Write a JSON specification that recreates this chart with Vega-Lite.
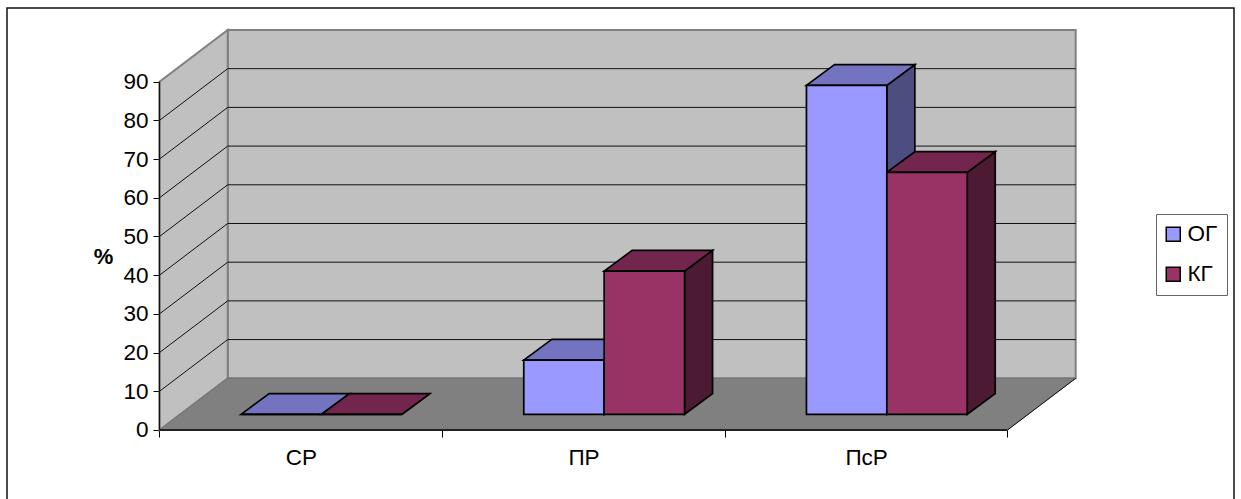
{
  "$schema": "https://vega.github.io/schema/vega-lite/v6.json",
  "width": 1227,
  "height": 492,
  "autosize": {"type": "none"},
  "padding": {"left": 7, "top": 8, "right": 7, "bottom": 0},
  "background": "white",
  "view": {"stroke": "#111111", "strokeWidth": 1.5, "fill": "white"},
  "config": {"font": "Liberation Sans"},
  "datasets": {
    "results": [
      {"group": "СР", "series": "ОГ", "value": 0},
      {"group": "СР", "series": "КГ", "value": 0},
      {"group": "ПР", "series": "ОГ", "value": 14},
      {"group": "ПР", "series": "КГ", "value": 37},
      {"group": "ПсР", "series": "ОГ", "value": 85},
      {"group": "ПсР", "series": "КГ", "value": 62.5}
    ],
    "levels": [
      {"level": 10}, {"level": 20}, {"level": 30}, {"level": 40},
      {"level": 50}, {"level": 60}, {"level": 70}, {"level": 80}
    ],
    "box": [{"part": "box"}]
  },
  "layer": [
    {
      "data": {"name": "box"},
      "mark": {"type": "rect", "fill": "#c0c0c0", "stroke": "#808080", "strokeWidth": 2},
      "encoding": {
        "x": {"datum": 0.2413, "type": "quantitative", "scale": {"domain": [-0.5395, 3.8013], "nice": false, "zero": false}, "axis": {"orient": "bottom", "offset": -70, "domain": false, "grid": false, "title": null, "values": [0, 0.5, 1, 1.5, 2, 2.5, 3], "labelExpr": "datum.value == 0.5 ? 'СР' : datum.value == 1.5 ? 'ПР' : datum.value == 2.5 ? 'ПсР' : ''", "tickOpacity": {"condition": {"test": "datum.value % 1 == 0", "value": 1}, "value": 0}, "tickColor": "#000000", "tickSize": 7, "tickWidth": 1, "labelFontSize": 22.5, "labelColor": "#000000", "labelPadding": 9, "labelFlush": false, "labelBound": false, "labelOverlap": false}},
        "x2": {"datum": 3.2413},
        "y": {"datum": 13.36, "type": "quantitative", "scale": {"domain": [-18.09, 109.04], "nice": false, "zero": false}, "axis": {"orient": "left", "offset": -152, "domain": false, "grid": false, "values": [0, 10, 20, 30, 40, 50, 60, 70, 80, 90], "title": "%", "titleAngle": 0, "titleX": -56, "titleY": 248, "titleFontSize": 22, "titleFontWeight": "bold", "titleColor": "#000000", "titleAlign": "center", "titleBaseline": "middle", "tickColor": "#000000", "tickSize": 6, "tickWidth": 1, "labelFontSize": 22.5, "labelColor": "#000000", "labelPadding": 5, "labelOverlap": false, "labelBound": false, "labelFlush": false}},
        "y2": {"datum": 103.36}
      }
    },
    {
      "data": {"name": "box"},
      "transform": [
        {"calculate": "[0, 1]", "as": "t"},
        {"flatten": ["t"]},
        {"calculate": "datum.t * 0.2413", "as": "wx"},
        {"calculate": "datum.t * 13.36", "as": "wb"},
        {"calculate": "90 + datum.t * 13.36", "as": "wt"}
      ],
      "mark": {"type": "area", "fill": "#c0c0c0", "stroke": "#808080", "strokeWidth": 2, "opacity": 1},
      "encoding": {
        "x": {"field": "wx", "type": "quantitative", "scale": {"domain": [-0.5395, 3.8013], "nice": false, "zero": false}, "axis": {"orient": "bottom", "offset": -70, "domain": false, "grid": false, "title": null, "values": [0, 0.5, 1, 1.5, 2, 2.5, 3], "labelExpr": "datum.value == 0.5 ? 'СР' : datum.value == 1.5 ? 'ПР' : datum.value == 2.5 ? 'ПсР' : ''", "tickOpacity": {"condition": {"test": "datum.value % 1 == 0", "value": 1}, "value": 0}, "tickColor": "#000000", "tickSize": 7, "tickWidth": 1, "labelFontSize": 22.5, "labelColor": "#000000", "labelPadding": 9, "labelFlush": false, "labelBound": false, "labelOverlap": false}},
        "y": {"field": "wb", "type": "quantitative", "scale": {"domain": [-18.09, 109.04], "nice": false, "zero": false}, "axis": {"orient": "left", "offset": -152, "domain": false, "grid": false, "values": [0, 10, 20, 30, 40, 50, 60, 70, 80, 90], "title": "%", "titleAngle": 0, "titleX": -56, "titleY": 248, "titleFontSize": 22, "titleFontWeight": "bold", "titleColor": "#000000", "titleAlign": "center", "titleBaseline": "middle", "tickColor": "#000000", "tickSize": 6, "tickWidth": 1, "labelFontSize": 22.5, "labelColor": "#000000", "labelPadding": 5, "labelOverlap": false, "labelBound": false, "labelFlush": false}},
        "y2": {"field": "wt"}
      }
    },
    {
      "data": {"name": "box"},
      "transform": [
        {"calculate": "[0, 1]", "as": "t"},
        {"flatten": ["t"]},
        {"calculate": "datum.t * 13.36", "as": "fy"},
        {"calculate": "datum.t * 0.2413", "as": "fl"},
        {"calculate": "3 + datum.t * 0.2413", "as": "fr"}
      ],
      "mark": {"type": "area", "orient": "horizontal", "fill": "#808080", "stroke": "#737373", "strokeWidth": 1, "opacity": 1},
      "encoding": {
        "y": {"field": "fy", "type": "quantitative", "scale": {"domain": [-18.09, 109.04], "nice": false, "zero": false}, "axis": {"orient": "left", "offset": -152, "domain": false, "grid": false, "values": [0, 10, 20, 30, 40, 50, 60, 70, 80, 90], "title": "%", "titleAngle": 0, "titleX": -56, "titleY": 248, "titleFontSize": 22, "titleFontWeight": "bold", "titleColor": "#000000", "titleAlign": "center", "titleBaseline": "middle", "tickColor": "#000000", "tickSize": 6, "tickWidth": 1, "labelFontSize": 22.5, "labelColor": "#000000", "labelPadding": 5, "labelOverlap": false, "labelBound": false, "labelFlush": false}},
        "x": {"field": "fl", "type": "quantitative", "scale": {"domain": [-0.5395, 3.8013], "nice": false, "zero": false}, "axis": {"orient": "bottom", "offset": -70, "domain": false, "grid": false, "title": null, "values": [0, 0.5, 1, 1.5, 2, 2.5, 3], "labelExpr": "datum.value == 0.5 ? 'СР' : datum.value == 1.5 ? 'ПР' : datum.value == 2.5 ? 'ПсР' : ''", "tickOpacity": {"condition": {"test": "datum.value % 1 == 0", "value": 1}, "value": 0}, "tickColor": "#000000", "tickSize": 7, "tickWidth": 1, "labelFontSize": 22.5, "labelColor": "#000000", "labelPadding": 9, "labelFlush": false, "labelBound": false, "labelOverlap": false}},
        "x2": {"field": "fr"}
      }
    },
    {
      "data": {"name": "levels"},
      "transform": [
        {"calculate": "datum.level + 13.36", "as": "backLevel"}
      ],
      "mark": {"type": "rule", "color": "#111111", "strokeWidth": 1},
      "encoding": {
        "x": {"datum": 0.2413, "type": "quantitative", "scale": {"domain": [-0.5395, 3.8013], "nice": false, "zero": false}, "axis": {"orient": "bottom", "offset": -70, "domain": false, "grid": false, "title": null, "values": [0, 0.5, 1, 1.5, 2, 2.5, 3], "labelExpr": "datum.value == 0.5 ? 'СР' : datum.value == 1.5 ? 'ПР' : datum.value == 2.5 ? 'ПсР' : ''", "tickOpacity": {"condition": {"test": "datum.value % 1 == 0", "value": 1}, "value": 0}, "tickColor": "#000000", "tickSize": 7, "tickWidth": 1, "labelFontSize": 22.5, "labelColor": "#000000", "labelPadding": 9, "labelFlush": false, "labelBound": false, "labelOverlap": false}},
        "x2": {"datum": 3.2413},
        "y": {"field": "backLevel", "type": "quantitative", "scale": {"domain": [-18.09, 109.04], "nice": false, "zero": false}, "axis": {"orient": "left", "offset": -152, "domain": false, "grid": false, "values": [0, 10, 20, 30, 40, 50, 60, 70, 80, 90], "title": "%", "titleAngle": 0, "titleX": -56, "titleY": 248, "titleFontSize": 22, "titleFontWeight": "bold", "titleColor": "#000000", "titleAlign": "center", "titleBaseline": "middle", "tickColor": "#000000", "tickSize": 6, "tickWidth": 1, "labelFontSize": 22.5, "labelColor": "#000000", "labelPadding": 5, "labelOverlap": false, "labelBound": false, "labelFlush": false}}
      }
    },
    {
      "data": {"name": "levels"},
      "transform": [
        {"calculate": "datum.level + 13.36", "as": "backLevel"}
      ],
      "mark": {"type": "rule", "color": "#111111", "strokeWidth": 1},
      "encoding": {
        "x": {"datum": 0, "type": "quantitative", "scale": {"domain": [-0.5395, 3.8013], "nice": false, "zero": false}, "axis": {"orient": "bottom", "offset": -70, "domain": false, "grid": false, "title": null, "values": [0, 0.5, 1, 1.5, 2, 2.5, 3], "labelExpr": "datum.value == 0.5 ? 'СР' : datum.value == 1.5 ? 'ПР' : datum.value == 2.5 ? 'ПсР' : ''", "tickOpacity": {"condition": {"test": "datum.value % 1 == 0", "value": 1}, "value": 0}, "tickColor": "#000000", "tickSize": 7, "tickWidth": 1, "labelFontSize": 22.5, "labelColor": "#000000", "labelPadding": 9, "labelFlush": false, "labelBound": false, "labelOverlap": false}},
        "x2": {"datum": 0.2413},
        "y": {"field": "level", "type": "quantitative", "scale": {"domain": [-18.09, 109.04], "nice": false, "zero": false}, "axis": {"orient": "left", "offset": -152, "domain": false, "grid": false, "values": [0, 10, 20, 30, 40, 50, 60, 70, 80, 90], "title": "%", "titleAngle": 0, "titleX": -56, "titleY": 248, "titleFontSize": 22, "titleFontWeight": "bold", "titleColor": "#000000", "titleAlign": "center", "titleBaseline": "middle", "tickColor": "#000000", "tickSize": 6, "tickWidth": 1, "labelFontSize": 22.5, "labelColor": "#000000", "labelPadding": 5, "labelOverlap": false, "labelBound": false, "labelFlush": false}},
        "y2": {"field": "backLevel"}
      }
    },
    {
      "data": {"name": "box"},
      "mark": {"type": "rule", "color": "#111111", "strokeWidth": 1.3},
      "encoding": {
        "x": {"datum": 0, "type": "quantitative", "scale": {"domain": [-0.5395, 3.8013], "nice": false, "zero": false}, "axis": {"orient": "bottom", "offset": -70, "domain": false, "grid": false, "title": null, "values": [0, 0.5, 1, 1.5, 2, 2.5, 3], "labelExpr": "datum.value == 0.5 ? 'СР' : datum.value == 1.5 ? 'ПР' : datum.value == 2.5 ? 'ПсР' : ''", "tickOpacity": {"condition": {"test": "datum.value % 1 == 0", "value": 1}, "value": 0}, "tickColor": "#000000", "tickSize": 7, "tickWidth": 1, "labelFontSize": 22.5, "labelColor": "#000000", "labelPadding": 9, "labelFlush": false, "labelBound": false, "labelOverlap": false}},
        "y": {"datum": 0, "type": "quantitative", "scale": {"domain": [-18.09, 109.04], "nice": false, "zero": false}, "axis": {"orient": "left", "offset": -152, "domain": false, "grid": false, "values": [0, 10, 20, 30, 40, 50, 60, 70, 80, 90], "title": "%", "titleAngle": 0, "titleX": -56, "titleY": 248, "titleFontSize": 22, "titleFontWeight": "bold", "titleColor": "#000000", "titleAlign": "center", "titleBaseline": "middle", "tickColor": "#000000", "tickSize": 6, "tickWidth": 1, "labelFontSize": 22.5, "labelColor": "#000000", "labelPadding": 5, "labelOverlap": false, "labelBound": false, "labelFlush": false}},
        "y2": {"datum": 90}
      }
    },
    {
      "data": {"name": "box"},
      "mark": {"type": "rule", "color": "#222222", "strokeWidth": 2},
      "encoding": {
        "x": {"datum": 0, "type": "quantitative", "scale": {"domain": [-0.5395, 3.8013], "nice": false, "zero": false}, "axis": {"orient": "bottom", "offset": -70, "domain": false, "grid": false, "title": null, "values": [0, 0.5, 1, 1.5, 2, 2.5, 3], "labelExpr": "datum.value == 0.5 ? 'СР' : datum.value == 1.5 ? 'ПР' : datum.value == 2.5 ? 'ПсР' : ''", "tickOpacity": {"condition": {"test": "datum.value % 1 == 0", "value": 1}, "value": 0}, "tickColor": "#000000", "tickSize": 7, "tickWidth": 1, "labelFontSize": 22.5, "labelColor": "#000000", "labelPadding": 9, "labelFlush": false, "labelBound": false, "labelOverlap": false}},
        "x2": {"datum": 3},
        "y": {"datum": 0, "type": "quantitative", "scale": {"domain": [-18.09, 109.04], "nice": false, "zero": false}, "axis": {"orient": "left", "offset": -152, "domain": false, "grid": false, "values": [0, 10, 20, 30, 40, 50, 60, 70, 80, 90], "title": "%", "titleAngle": 0, "titleX": -56, "titleY": 248, "titleFontSize": 22, "titleFontWeight": "bold", "titleColor": "#000000", "titleAlign": "center", "titleBaseline": "middle", "tickColor": "#000000", "tickSize": 6, "tickWidth": 1, "labelFontSize": 22.5, "labelColor": "#000000", "labelPadding": 5, "labelOverlap": false, "labelBound": false, "labelFlush": false}}
      }
    },
    {
      "data": {"name": "box"},
      "mark": {"type": "rule", "color": "#111111", "strokeWidth": 1},
      "encoding": {
        "x": {"datum": 3, "type": "quantitative", "scale": {"domain": [-0.5395, 3.8013], "nice": false, "zero": false}, "axis": {"orient": "bottom", "offset": -70, "domain": false, "grid": false, "title": null, "values": [0, 0.5, 1, 1.5, 2, 2.5, 3], "labelExpr": "datum.value == 0.5 ? 'СР' : datum.value == 1.5 ? 'ПР' : datum.value == 2.5 ? 'ПсР' : ''", "tickOpacity": {"condition": {"test": "datum.value % 1 == 0", "value": 1}, "value": 0}, "tickColor": "#000000", "tickSize": 7, "tickWidth": 1, "labelFontSize": 22.5, "labelColor": "#000000", "labelPadding": 9, "labelFlush": false, "labelBound": false, "labelOverlap": false}},
        "x2": {"datum": 3.2413},
        "y": {"datum": 0, "type": "quantitative", "scale": {"domain": [-18.09, 109.04], "nice": false, "zero": false}, "axis": {"orient": "left", "offset": -152, "domain": false, "grid": false, "values": [0, 10, 20, 30, 40, 50, 60, 70, 80, 90], "title": "%", "titleAngle": 0, "titleX": -56, "titleY": 248, "titleFontSize": 22, "titleFontWeight": "bold", "titleColor": "#000000", "titleAlign": "center", "titleBaseline": "middle", "tickColor": "#000000", "tickSize": 6, "tickWidth": 1, "labelFontSize": 22.5, "labelColor": "#000000", "labelPadding": 5, "labelOverlap": false, "labelBound": false, "labelFlush": false}},
        "y2": {"datum": 13.36}
      }
    },
    {
      "data": {"name": "results"},
      "transform": [
        {"calculate": "indexof(['СР', 'ПР', 'ПсР'], datum.group) + 0.2887 + indexof(['ОГ', 'КГ'], datum.series) * 0.2844 + 0.2844", "as": "xr"},
        {"calculate": "[0, 1]", "as": "t"},
        {"flatten": ["t"]},
        {"calculate": "datum.xr + datum.t * 0.0991", "as": "sx"},
        {"calculate": "4.06 + datum.t * 5.35", "as": "sb"},
        {"calculate": "4.06 + datum.value + datum.t * 5.35", "as": "st"},
        {"calculate": "datum.group + datum.series", "as": "bar"}
      ],
      "mark": {"type": "area", "stroke": "#000000", "strokeWidth": 1.7, "opacity": 1},
      "encoding": {
        "x": {"field": "sx", "type": "quantitative", "scale": {"domain": [-0.5395, 3.8013], "nice": false, "zero": false}, "axis": {"orient": "bottom", "offset": -70, "domain": false, "grid": false, "title": null, "values": [0, 0.5, 1, 1.5, 2, 2.5, 3], "labelExpr": "datum.value == 0.5 ? 'СР' : datum.value == 1.5 ? 'ПР' : datum.value == 2.5 ? 'ПсР' : ''", "tickOpacity": {"condition": {"test": "datum.value % 1 == 0", "value": 1}, "value": 0}, "tickColor": "#000000", "tickSize": 7, "tickWidth": 1, "labelFontSize": 22.5, "labelColor": "#000000", "labelPadding": 9, "labelFlush": false, "labelBound": false, "labelOverlap": false}},
        "y": {"field": "sb", "type": "quantitative", "scale": {"domain": [-18.09, 109.04], "nice": false, "zero": false}, "axis": {"orient": "left", "offset": -152, "domain": false, "grid": false, "values": [0, 10, 20, 30, 40, 50, 60, 70, 80, 90], "title": "%", "titleAngle": 0, "titleX": -56, "titleY": 248, "titleFontSize": 22, "titleFontWeight": "bold", "titleColor": "#000000", "titleAlign": "center", "titleBaseline": "middle", "tickColor": "#000000", "tickSize": 6, "tickWidth": 1, "labelFontSize": 22.5, "labelColor": "#000000", "labelPadding": 5, "labelOverlap": false, "labelBound": false, "labelFlush": false}},
        "y2": {"field": "st"},
        "detail": {"field": "bar"},
        "fill": {"condition": {"test": "datum.series === 'ОГ'", "value": "#4d4d80"}, "value": "#4d1a33"}
      }
    },
    {
      "data": {"name": "results"},
      "transform": [
        {"calculate": "indexof(['СР', 'ПР', 'ПсР'], datum.group) + 0.2887 + indexof(['ОГ', 'КГ'], datum.series) * 0.2844", "as": "xl"},
        {"calculate": "[0, 1]", "as": "t"},
        {"flatten": ["t"]},
        {"calculate": "datum.xl + datum.t * 0.0991", "as": "ta"},
        {"calculate": "datum.xl + 0.2844 + datum.t * 0.0991", "as": "tb"},
        {"calculate": "4.06 + datum.value + datum.t * 5.35", "as": "ty"},
        {"calculate": "datum.group + datum.series", "as": "bar"}
      ],
      "mark": {"type": "area", "orient": "horizontal", "stroke": "#000000", "strokeWidth": 1.7, "opacity": 1},
      "encoding": {
        "y": {"field": "ty", "type": "quantitative", "scale": {"domain": [-18.09, 109.04], "nice": false, "zero": false}, "axis": {"orient": "left", "offset": -152, "domain": false, "grid": false, "values": [0, 10, 20, 30, 40, 50, 60, 70, 80, 90], "title": "%", "titleAngle": 0, "titleX": -56, "titleY": 248, "titleFontSize": 22, "titleFontWeight": "bold", "titleColor": "#000000", "titleAlign": "center", "titleBaseline": "middle", "tickColor": "#000000", "tickSize": 6, "tickWidth": 1, "labelFontSize": 22.5, "labelColor": "#000000", "labelPadding": 5, "labelOverlap": false, "labelBound": false, "labelFlush": false}},
        "x": {"field": "ta", "type": "quantitative", "scale": {"domain": [-0.5395, 3.8013], "nice": false, "zero": false}, "axis": {"orient": "bottom", "offset": -70, "domain": false, "grid": false, "title": null, "values": [0, 0.5, 1, 1.5, 2, 2.5, 3], "labelExpr": "datum.value == 0.5 ? 'СР' : datum.value == 1.5 ? 'ПР' : datum.value == 2.5 ? 'ПсР' : ''", "tickOpacity": {"condition": {"test": "datum.value % 1 == 0", "value": 1}, "value": 0}, "tickColor": "#000000", "tickSize": 7, "tickWidth": 1, "labelFontSize": 22.5, "labelColor": "#000000", "labelPadding": 9, "labelFlush": false, "labelBound": false, "labelOverlap": false}},
        "x2": {"field": "tb"},
        "detail": {"field": "bar"},
        "fill": {"condition": {"test": "datum.series === 'ОГ'", "value": "#7373bf"}, "value": "#73264d"}
      }
    },
    {
      "data": {"name": "results"},
      "transform": [
        {"calculate": "indexof(['СР', 'ПР', 'ПсР'], datum.group) + 0.2887 + indexof(['ОГ', 'КГ'], datum.series) * 0.2844", "as": "xl"},
        {"calculate": "datum.xl + 0.2844", "as": "xr"},
        {"calculate": "4.06 + datum.value", "as": "top"},
        {"calculate": "4.06", "as": "base"}
      ],
      "mark": {"type": "rect", "stroke": "#000000", "strokeWidth": 1.7, "opacity": 1},
      "encoding": {
        "x": {"field": "xl", "type": "quantitative", "scale": {"domain": [-0.5395, 3.8013], "nice": false, "zero": false}, "axis": {"orient": "bottom", "offset": -70, "domain": false, "grid": false, "title": null, "values": [0, 0.5, 1, 1.5, 2, 2.5, 3], "labelExpr": "datum.value == 0.5 ? 'СР' : datum.value == 1.5 ? 'ПР' : datum.value == 2.5 ? 'ПсР' : ''", "tickOpacity": {"condition": {"test": "datum.value % 1 == 0", "value": 1}, "value": 0}, "tickColor": "#000000", "tickSize": 7, "tickWidth": 1, "labelFontSize": 22.5, "labelColor": "#000000", "labelPadding": 9, "labelFlush": false, "labelBound": false, "labelOverlap": false}},
        "x2": {"field": "xr"},
        "y": {"field": "base", "type": "quantitative", "scale": {"domain": [-18.09, 109.04], "nice": false, "zero": false}, "axis": {"orient": "left", "offset": -152, "domain": false, "grid": false, "values": [0, 10, 20, 30, 40, 50, 60, 70, 80, 90], "title": "%", "titleAngle": 0, "titleX": -56, "titleY": 248, "titleFontSize": 22, "titleFontWeight": "bold", "titleColor": "#000000", "titleAlign": "center", "titleBaseline": "middle", "tickColor": "#000000", "tickSize": 6, "tickWidth": 1, "labelFontSize": 22.5, "labelColor": "#000000", "labelPadding": 5, "labelOverlap": false, "labelBound": false, "labelFlush": false}},
        "y2": {"field": "top"},
        "color": {
          "field": "series", "type": "nominal",
          "scale": {"domain": ["ОГ", "КГ"], "range": ["#9999ff", "#993366"]},
          "legend": {
            "orient": "none", "legendX": 1149, "legendY": 206, "title": null,
            "fillColor": "white", "strokeColor": "#666666", "padding": 9,
            "symbolType": "square", "symbolSize": 196, "symbolStrokeColor": "#000000", "symbolStrokeWidth": 1.5,
            "symbolOpacity": 1, "symbolOffset": -3,
            "labelFontSize": 22.5, "labelColor": "#000000", "labelOffset": 3, "rowPadding": 17
          }
        }
      }
    }
  ]
}
